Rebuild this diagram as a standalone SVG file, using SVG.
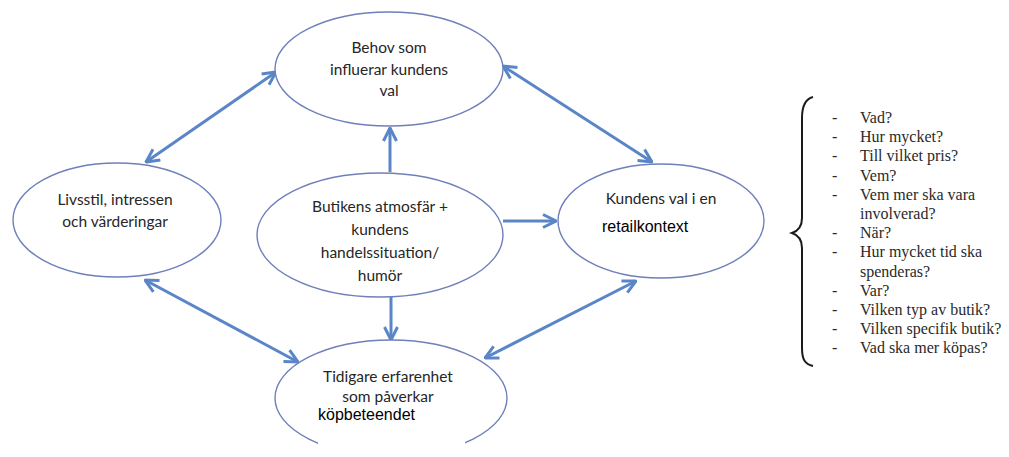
<svg xmlns="http://www.w3.org/2000/svg" width="1009" height="457" viewBox="0 0 1009 457">
<style>
.node ellipse{fill:#ffffff;stroke:#6f7fba;stroke-width:1.4}
.lbl{font-family:Lato,"Liberation Sans",sans-serif;font-size:15.5px;fill:#262626;text-anchor:middle}
.patch{font-family:"Liberation Sans",Arial,sans-serif;font-size:16px;fill:#000}
.conn line{stroke:#5a86c8;stroke-width:3;fill:none}
.lst{font-family:"Liberation Serif","Times New Roman",serif;font-size:16px;fill:#2a2a2a}
</style>
<defs>
<marker id="ah" viewBox="0 0 16 16" refX="15" refY="8" markerWidth="16" markerHeight="16" markerUnits="userSpaceOnUse" orient="auto-start-reverse">
<path d="M2,1.5 L15,8 L2,14.5" fill="none" stroke="#5a86c8" stroke-width="3" stroke-linejoin="miter"/>
</marker>
</defs>
<rect width="1009" height="457" fill="#ffffff"/>
<g class="conn">
<line x1="146" y1="162" x2="276" y2="72" marker-start="url(#ah)" marker-end="url(#ah)"/>
<line x1="503" y1="66" x2="652" y2="162" marker-start="url(#ah)" marker-end="url(#ah)"/>
<line x1="145" y1="280" x2="298" y2="362" marker-start="url(#ah)" marker-end="url(#ah)"/>
<line x1="636" y1="281" x2="485" y2="358" marker-start="url(#ah)" marker-end="url(#ah)"/>
<line x1="390" y1="172" x2="390" y2="128" marker-end="url(#ah)"/>
<line x1="503" y1="221" x2="556" y2="221" marker-end="url(#ah)"/>
<line x1="391" y1="297" x2="391" y2="340" marker-end="url(#ah)"/>
</g>
<g id="behov" class="node">
<ellipse cx="389" cy="69" rx="114" ry="57"/>
<text class="lbl" x="389" y="53">Behov som</text>
<text class="lbl" x="389" y="75">influerar kundens</text>
<text class="lbl" x="389" y="96">val</text>
</g>
<g id="livsstil" class="node">
<ellipse cx="117" cy="220" rx="104" ry="57"/>
<text class="lbl" x="115" y="205">Livsstil, intressen</text>
<text class="lbl" x="115" y="227">och värderingar</text>
</g>
<g id="butik" class="node">
<ellipse cx="380" cy="235" rx="123" ry="62"/>
<text class="lbl" x="380" y="212">Butikens atmosfär +</text>
<text class="lbl" x="380" y="235">kundens</text>
<text class="lbl" x="380" y="258">handelssituation/</text>
<text class="lbl" x="380" y="281">humör</text>
</g>
<g id="kundval" class="node">
<ellipse cx="661" cy="221" rx="103" ry="57"/>
<text class="lbl" x="661" y="204">Kundens val i en</text>
<text class="patch" x="602" y="232">retailkontext</text>
</g>
<g id="tidigare" class="node">
<ellipse cx="391" cy="398" rx="116" ry="58"/>
<text class="lbl" x="388" y="382">Tidigare erfarenhet</text>
<text class="lbl" x="388" y="402">som påverkar</text>
<rect x="318" y="407" width="147" height="50" fill="#ffffff"/>
<text class="patch" x="318" y="420">köpbeteendet</text>
</g>
<g id="lista">
<path d="M813,97 C805,99 802,106 802,118 L802,218 C802,227 798,231 792,233 C798,235 802,239 802,248 L802,348 C802,360 805,364 813,366" fill="none" stroke="#1a1a1a" stroke-width="2"/>
<g class="lst">
<text x="832" y="123">-</text><text x="860" y="123">Vad?</text>
<text x="832" y="142">-</text><text x="860" y="142">Hur mycket?</text>
<text x="832" y="161">-</text><text x="860" y="161">Till vilket pris?</text>
<text x="832" y="181">-</text><text x="860" y="181">Vem?</text>
<text x="832" y="200">-</text><text x="860" y="200">Vem mer ska vara</text>
<text x="860" y="219">involverad?</text>
<text x="832" y="238">-</text><text x="860" y="238">När?</text>
<text x="832" y="257">-</text><text x="860" y="257">Hur mycket tid ska</text>
<text x="860" y="277">spenderas?</text>
<text x="832" y="296">-</text><text x="860" y="296">Var?</text>
<text x="832" y="315">-</text><text x="860" y="315">Vilken typ av butik?</text>
<text x="832" y="334">-</text><text x="860" y="334">Vilken specifik butik?</text>
<text x="832" y="353">-</text><text x="860" y="353">Vad ska mer köpas?</text>
</g>
</g>
</svg>
